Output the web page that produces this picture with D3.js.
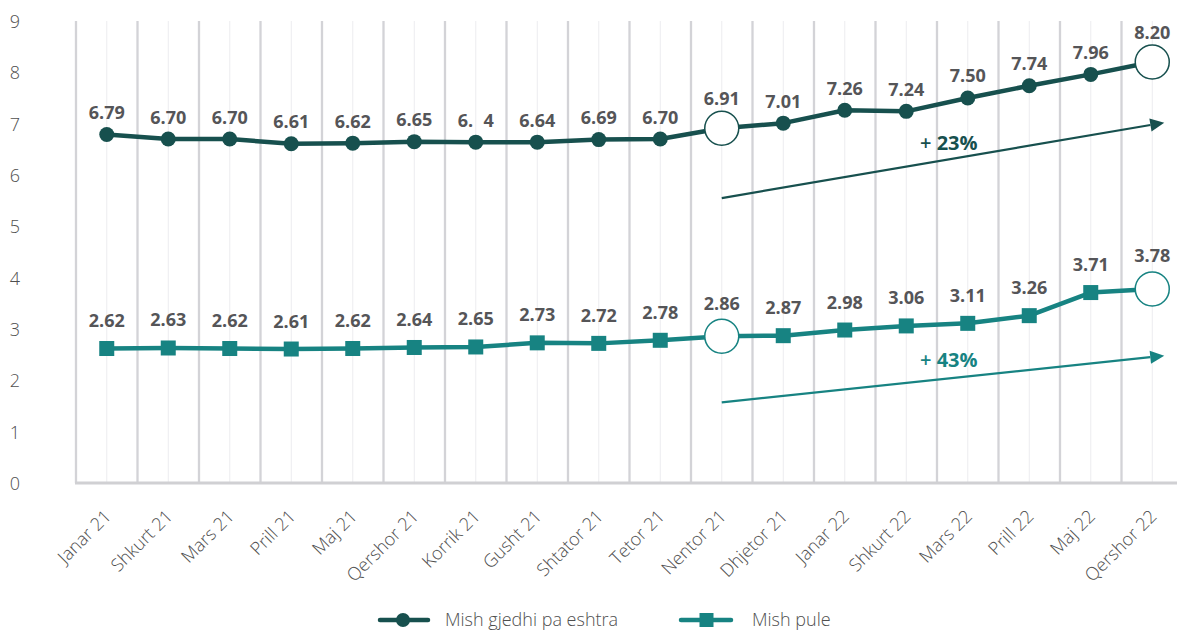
<!DOCTYPE html>
<html>
<head>
<meta charset="utf-8">
<script src="https://cdn.jsdelivr.net/npm/d3@7"></script>
<style>
  html, body { margin: 0; padding: 0; background: #fff; }
  svg { display: block; }
  text { font-family: "Open Sans", "Noto Sans", sans-serif; }
</style>
</head>
<body>
<svg id="chart" width="1177" height="630"></svg>
<script>
// ---- data ----
const categories = ["Janar 21","Shkurt 21","Mars 21","Prill 21","Maj 21","Qershor 21","Korrik 21","Gusht 21","Shtator 21","Tetor 21","Nentor 21","Dhjetor 21","Janar 22","Shkurt 22","Mars 22","Prill 22","Maj 22","Qershor 22"];
const beef = [6.79,6.70,6.70,6.61,6.62,6.65,6.64,6.64,6.69,6.70,6.91,7.01,7.26,7.24,7.50,7.74,7.96,8.20];
const beefLabels = ["6.79","6.70","6.70","6.61","6.62","6.65","6.\u20074","6.64","6.69","6.70","6.91","7.01","7.26","7.24","7.50","7.74","7.96","8.20"];
const chicken = [2.62,2.63,2.62,2.61,2.62,2.64,2.65,2.73,2.72,2.78,2.86,2.87,2.98,3.06,3.11,3.26,3.71,3.78];
const chickenLabels = ["2.62","2.63","2.62","2.61","2.62","2.64","2.65","2.73","2.72","2.78","2.86","2.87","2.98","3.06","3.11","3.26","3.71","3.78"];
const yTicks = [0,1,2,3,4,5,6,7,8,9];
const seriesNames = ["Mish gjedhi pa eshtra","Mish pule"];
const highlighted = ["Nentor 21","Qershor 22"];
// trend annotations: [category, value] start/end, label
const beefTrend = { from: ["Nentor 21", 5.55], to: ["Qershor 22", 7.02], label: "+ 23%", labelAt: ["Mars 22", 6.62] };
const chickenTrend = { from: ["Nentor 21", 1.57], to: ["Qershor 22", 2.48], label: "+ 43%", labelAt: ["Mars 22", 2.40] };

// ---- styles ----
const C_DARK = "#17504e";
const C_TEAL = "#178382";
const C_TEXT = "#4f4f4f";

const svg = d3.select("#chart");
const m = { left: 76, top: 21, bottom: 483, right: 1183 };

const x = d3.scaleBand().domain(categories).range([m.left, m.right]).padding(0);
const cx = d => x(d) + x.bandwidth() / 2;
const y = d3.scaleLinear().domain([0, 9]).range([m.bottom, m.top]);

// gridlines
const g = svg.append("g");
g.selectAll("line.minor").data(categories).join("line")
  .attr("x1", d => cx(d)).attr("x2", d => cx(d))
  .attr("y1", m.top).attr("y2", m.bottom)
  .attr("stroke", "#ececef").attr("stroke-width", 1);
g.selectAll("line.major").data(categories).join("line")
  .attr("x1", d => x(d)).attr("x2", d => x(d))
  .attr("y1", m.top).attr("y2", m.bottom)
  .attr("stroke", "#d3d3d7").attr("stroke-width", 2.3);
// bottom axis line
g.append("line").attr("x1", m.left - 1).attr("x2", 1177)
  .attr("y1", m.bottom).attr("y2", m.bottom)
  .attr("stroke", "#d0d0d3").attr("stroke-width", 3);

// y axis
const yAxis = d3.axisLeft(y).tickValues(yTicks).tickSize(0).tickPadding(0);
const ya = svg.append("g").attr("transform", "translate(22,0)").call(yAxis);
ya.select(".domain").remove();
ya.selectAll("text").attr("font-size", 18).attr("fill", C_TEXT).attr("font-weight", 300)
  .attr("font-family", "'Open Sans', sans-serif").attr("text-anchor", "middle").attr("x", -7).attr("dy", "0.36em");

// x axis labels
const xAxis = d3.axisBottom(x).tickSize(0).tickPadding(0);
const xa = svg.append("g").attr("transform", `translate(0,${m.bottom})`).call(xAxis);
xa.select(".domain").remove();
xa.selectAll("text")
  .attr("font-size", 18).attr("fill", C_TEXT).attr("font-weight", 300)
  .attr("font-family", "'Open Sans', sans-serif")
  .attr("text-anchor", "end")
  .attr("y", 0).attr("dy", "0.35em")
  .attr("transform", "translate(1,30) rotate(-45)");

// lines
const line = vals => d3.line().x((d, i) => cx(categories[i])).y(d => y(d))(vals);
svg.append("path").attr("d", line(chicken)).attr("fill", "none")
  .attr("stroke", C_TEAL).attr("stroke-width", 4.5).attr("stroke-linejoin", "round");
svg.append("path").attr("d", line(beef)).attr("fill", "none")
  .attr("stroke", C_DARK).attr("stroke-width", 4.5).attr("stroke-linejoin", "round");

const isHi = i => highlighted.includes(categories[i]);

// markers
svg.append("g").selectAll("rect").data(chicken.map((v, i) => ({ v, i })).filter(d => !isHi(d.i))).join("rect")
  .attr("x", d => cx(categories[d.i]) - 7.5).attr("y", d => y(d.v) - 7.5)
  .attr("width", 15).attr("height", 15).attr("fill", C_TEAL);
svg.append("g").selectAll("circle").data(beef.map((v, i) => ({ v, i })).filter(d => !isHi(d.i))).join("circle")
  .attr("cx", d => cx(categories[d.i])).attr("cy", d => y(d.v)).attr("r", 7.5).attr("fill", C_DARK);

// highlighted open circles
[[beef, C_DARK], [chicken, C_TEAL]].forEach(([vals, col]) => {
  svg.append("g").selectAll("circle").data(vals.map((v, i) => ({ v, i })).filter(d => isHi(d.i))).join("circle")
    .attr("cx", d => cx(categories[d.i])).attr("cy", d => y(d.v)).attr("r", 17)
    .attr("fill", "#fff").attr("stroke", col).attr("stroke-width", 1.5);
});

// data labels
function labels(vals, texts, off, offHi) {
  svg.append("g").selectAll("text").data(vals.map((v, i) => ({ v, i }))).join("text")
    .attr("x", d => cx(categories[d.i]))
    .attr("y", d => y(d.v) - (isHi(d.i) ? offHi : off))
    .attr("dy", "0.36em")
    .attr("text-anchor", "middle")
    .attr("font-size", 18).attr("font-weight", 700).attr("fill", "#555558")
    .style("white-space", "pre")
    .text(d => texts[d.i]);
}
labels(beef, beefLabels, 22, 30);
labels(chicken, chickenLabels, 28, 33);

// trend arrows
function trend(t, col) {
  const x1 = cx(t.from[0]), y1 = y(t.from[1]);
  const x2 = cx(t.to[0]) + 12, y2 = y(t.to[1]);
  const ang = Math.atan2(y2 - y1, x2 - x1);
  const L = 14, W = 6.5;
  const bx = x2 - L * Math.cos(ang), by = y2 - L * Math.sin(ang);
  svg.append("line").attr("x1", x1).attr("y1", y1).attr("x2", bx).attr("y2", by)
    .attr("stroke", col).attr("stroke-width", 2.2);
  const p1 = [bx + W * Math.sin(ang), by - W * Math.cos(ang)];
  const p2 = [bx - W * Math.sin(ang), by + W * Math.cos(ang)];
  svg.append("path").attr("d", `M${x2},${y2}L${p1[0]},${p1[1]}L${p2[0]},${p2[1]}Z`).attr("fill", col);
  const t1 = svg.append("text").attr("x", cx(t.labelAt[0]) - 19).attr("y", y(t.labelAt[1]))
    .attr("dy", "0.36em").attr("text-anchor", "middle").attr("fill", col).attr("font-size", 20);
  const parts = t.label.split(" ");
  t1.append("tspan").attr("font-weight", 600).text(parts[0] + " ");
  t1.append("tspan").attr("font-weight", 700).text(parts[1]);
}
trend(beefTrend, C_DARK);
trend(chickenTrend, C_TEAL);

// legend
const leg = svg.append("g");
leg.append("line").attr("x1", 380).attr("x2", 428).attr("y1", 620).attr("y2", 620)
  .attr("stroke", C_DARK).attr("stroke-width", 4.5).attr("stroke-linecap", "round");
leg.append("circle").attr("cx", 403).attr("cy", 620).attr("r", 7).attr("fill", C_DARK);
leg.append("text").attr("x", 445).attr("y", 620).attr("dy", "0.36em").attr("font-size", 18).attr("font-weight", 300)
  .attr("fill", C_TEXT).text(seriesNames[0]);
leg.append("line").attr("x1", 681).attr("x2", 731).attr("y1", 620).attr("y2", 620)
  .attr("stroke", C_TEAL).attr("stroke-width", 4.5).attr("stroke-linecap", "round");
leg.append("rect").attr("x", 699.5).attr("y", 613).attr("width", 14).attr("height", 14).attr("fill", C_TEAL);
leg.append("text").attr("x", 752).attr("y", 620).attr("dy", "0.36em").attr("font-size", 18).attr("font-weight", 300)
  .attr("fill", C_TEXT).text(seriesNames[1]);
</script>
</body>
</html>
